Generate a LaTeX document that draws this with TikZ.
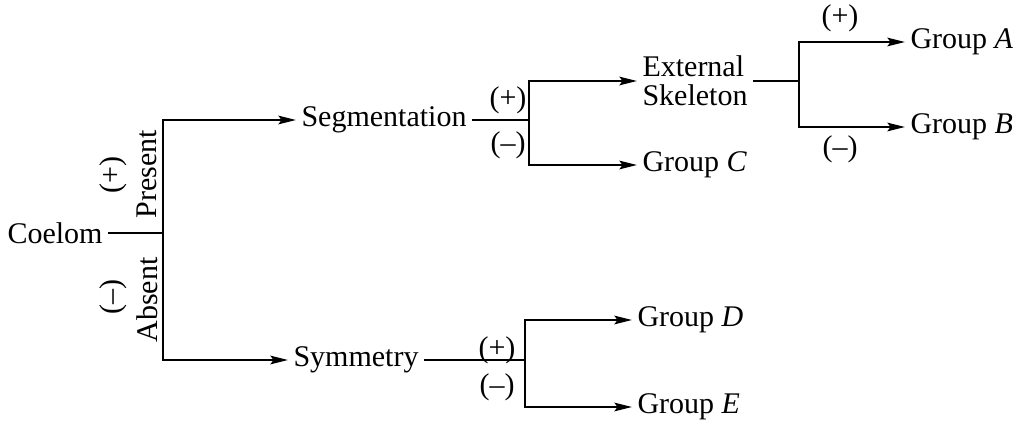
\documentclass[tikz,border=0pt]{standalone}
\usepackage{fontspec}
\setmainfont{Liberation Serif}
\usetikzlibrary{arrows.meta}
\begin{document}
\begin{tikzpicture}[x=0.4pt,y=-0.4pt,
    every node/.style={font=\fontsize{12}{11.6}\selectfont, inner sep=2pt},
    branch/.style={line width=0.9pt},
    arrow/.style={branch,-{Stealth[length=7pt,width=3.4pt,inset=1.2pt]}}]
        \useasboundingbox (0,0) rectangle (1018,425);

        \node[anchor=east] (coelom) at (108,233) {Coelom};
        \coordinate (cj) at (163,233);
        \node[rotate=90] (plus1) at (113,175) {(+)};
        \node[rotate=90] (present) at (147,174) {Present};
        \node[rotate=90] (minus1) at (113,297) {(--)};
        \node[rotate=90] (absent) at (147,300) {Absent};

        \node[anchor=west] (seg) at (296,120) {Segmentation};
        \coordinate (sj) at (529,120);
        \node[anchor=west, align=left] (ext) at (637,81) {External\\Skeleton};
        \node[anchor=west] (groupC) at (637,165) {Group \textit{C}};
        \node (plus2) at (508,100) {(+)};
        \node (minus2) at (508,145) {(--)};

        \coordinate (ej) at (799,81);
        \node[anchor=west] (groupA) at (905,42) {Group \textit{A}};
        \node[anchor=west] (groupB) at (905,127) {Group \textit{B}};
        \node (plus3) at (840,18) {(+)};
        \node (minus3) at (840,149) {(--)};

        \node[anchor=west] (sym) at (288,360) {Symmetry};
        \coordinate (yj) at (525,360);
        \node[anchor=west] (groupD) at (632,320) {Group \textit{D}};
        \node[anchor=west] (groupE) at (632,407) {Group \textit{E}};
        \node (plus4) at (497,350) {(+)};
        \node (minus4) at (497,387) {(--)};

        \draw[branch] (coelom) -- (cj);
        \draw[arrow] (cj) |- (seg);
        \draw[arrow] (cj) |- (sym);

        \draw[branch] (seg) -- (sj);
        \draw[arrow] (sj) |- (ext);
        \draw[arrow] (sj) |- (groupC);

        \draw[branch] (ext) -- (ej);
        \draw[arrow] (ej) |- (groupA);
        \draw[arrow] (ej) |- (groupB);

        \draw[branch] (sym) -- (yj);
        \draw[arrow] (yj) |- (groupD);
        \draw[arrow] (yj) |- (groupE);
\end{tikzpicture}
\end{document}
